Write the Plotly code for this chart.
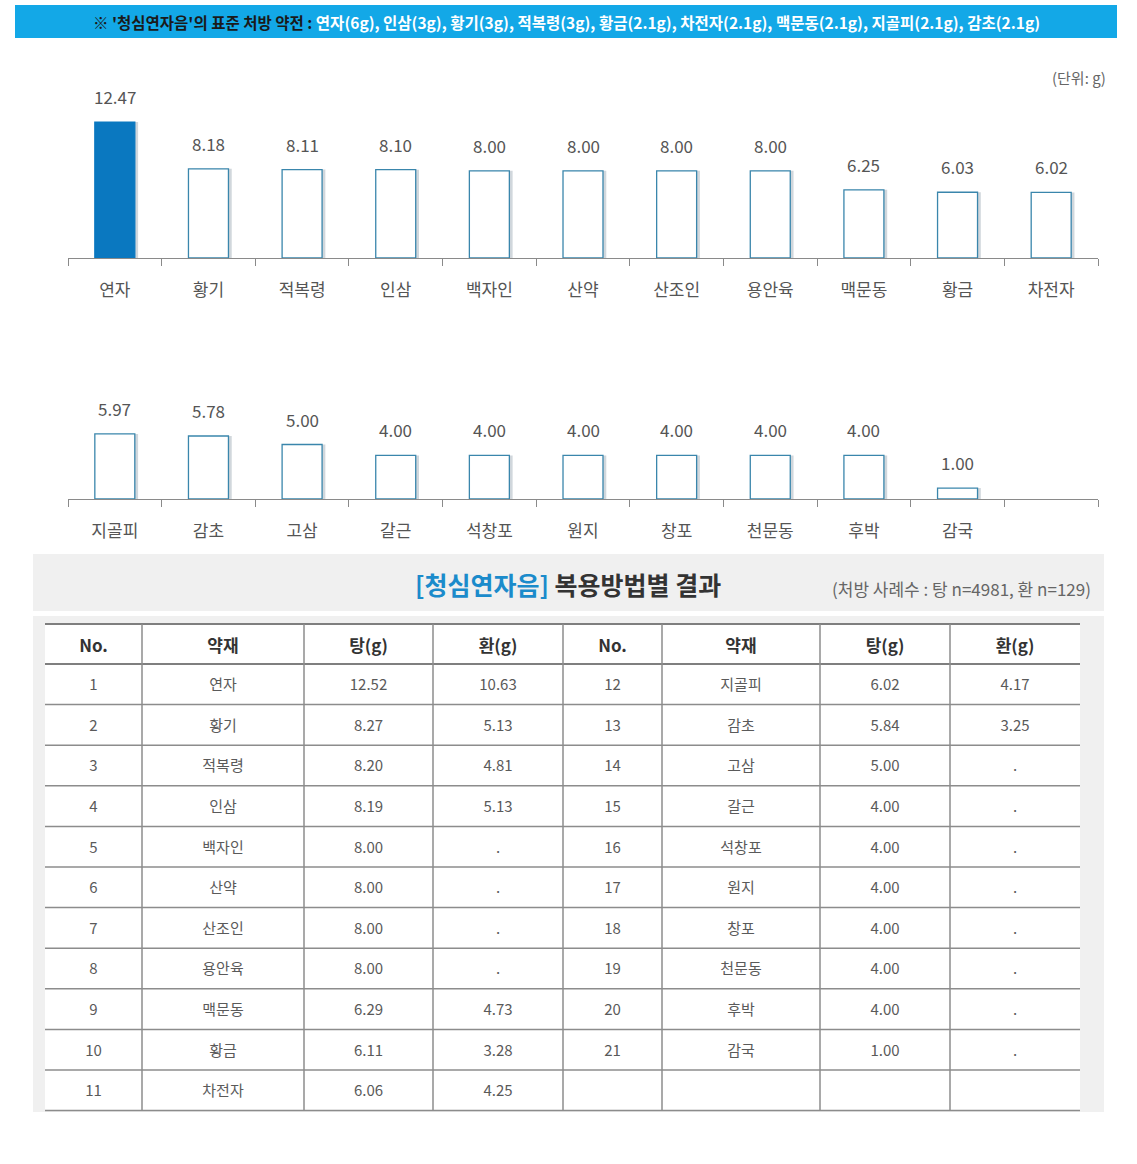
import plotly.graph_objects as go

W, H = 1137, 1164
FONT = "Noto Sans CJK KR"

# ---------------- data ----------------
std_herbs = ["연자", "인삼", "황기", "적복령", "황금", "차전자", "맥문동", "지골피", "감초"]
std_doses = ["6g", "3g", "3g", "3g", "2.1g", "2.1g", "2.1g", "2.1g", "2.1g"]

names1 = ["연자", "황기", "적복령", "인삼", "백자인", "산약", "산조인", "용안육", "맥문동", "황금", "차전자"]
vals1 = [12.47, 8.18, 8.11, 8.10, 8.00, 8.00, 8.00, 8.00, 6.25, 6.03, 6.02]
names2 = ["지골피", "감초", "고삼", "갈근", "석창포", "원지", "창포", "천문동", "후박", "감국"]
vals2 = [5.97, 5.78, 5.00, 4.00, 4.00, 4.00, 4.00, 4.00, 4.00, 1.00]

tbl_header = ["No.", "약재", "탕(g)", "환(g)", "No.", "약재", "탕(g)", "환(g)"]
no_left = [str(i) for i in range(1, 12)]
herb_left = ["연자", "황기", "적복령", "인삼", "백자인", "산약", "산조인", "용안육", "맥문동", "황금", "차전자"]
tang_left = ["12.52", "8.27", "8.20", "8.19", "8.00", "8.00", "8.00", "8.00", "6.29", "6.11", "6.06"]
hwan_left = ["10.63", "5.13", "4.81", "5.13", ".", ".", ".", ".", "4.73", "3.28", "4.25"]
no_right = [str(i) for i in range(12, 22)] + [""]
herb_right = ["지골피", "감초", "고삼", "갈근", "석창포", "원지", "창포", "천문동", "후박", "감국", ""]
tang_right = ["6.02", "5.84", "5.00", "4.00", "4.00", "4.00", "4.00", "4.00", "4.00", "1.00", ""]
hwan_right = ["4.17", "3.25", ".", ".", ".", ".", ".", ".", ".", ".", ""]

n_slots = 11

def px(x):
    return x / W

def py(y):
    return 1 - y / H

fig = go.Figure()

BAR_W = 0.427
SHADOW_DX = 0.035

def add_bars(names, vals, xa, ya):
    xs = list(range(len(vals)))
    fig.add_trace(go.Bar(
        x=xs, y=vals, xaxis=xa, yaxis=ya, width=BAR_W,
        offset=-BAR_W / 2 + SHADOW_DX,
        marker=dict(color="rgba(90,110,130,0.28)", line=dict(width=0)),
        hoverinfo="skip", showlegend=False))
    fills = ["#0A78C0" if (xa == "x" and i == 0) else "white" for i in range(len(vals))]
    lines = ["#0A78C0" if (xa == "x" and i == 0) else "#3A86AC" for i in range(len(vals))]
    fig.add_trace(go.Bar(
        x=xs, y=vals, xaxis=xa, yaxis=ya, width=BAR_W, offset=-BAR_W / 2,
        marker=dict(color=fills, line=dict(color=lines, width=1.3)),
        showlegend=False, hovertemplate="%{y:.2f}<extra></extra>"))
    for i, v in enumerate(vals):
        fig.add_annotation(x=i, y=v, xref=xa, yref=ya, text=f"{v:.2f}",
                           showarrow=False, yanchor="bottom", yshift=11,
                           font=dict(family=FONT, size=17, color="#555555"))

add_bars(names1, vals1, "x", "y")
add_bars(names2, vals2, "x2", "y2")

YTOP = 16.33
boundaries = [i - 0.5 for i in range(n_slots + 1)]

def xaxis_cfg(names, anchor):
    return dict(
        domain=[px(68), px(1098)], range=[-0.5, n_slots - 0.5], anchor=anchor,
        tickmode="array", tickvals=list(range(len(names))), ticktext=names,
        ticks="", showgrid=False, zeroline=False,
        showline=True, linecolor="#8a8a8a", linewidth=1.2,
        tickfont=dict(family=FONT, size=17, color="#555555"),
        ticklabelstandoff=16,
        minor=dict(tickmode="array", tickvals=boundaries, ticks="outside",
                   ticklen=7, tickcolor="#8a8a8a", tickwidth=1.2, showgrid=False),
        fixedrange=True)

fig.update_layout(
    xaxis=xaxis_cfg(names1, "y"),
    yaxis=dict(domain=[py(258), py(80)], range=[0, YTOP], visible=False, fixedrange=True),
    xaxis2=xaxis_cfg(names2, "y2"),
    yaxis2=dict(domain=[py(499), py(321)], range=[0, YTOP], visible=False, fixedrange=True),
)

# ---------------- table ----------------
col_w = [97, 162, 129, 130, 99, 158, 130, 130]
T_LEFT, T_TOP = 45, 624
HEAD_H, ROW_H = 40, 40.6
n_rows = len(no_left)
T_RIGHT = T_LEFT + sum(col_w)
T_BOTTOM = T_TOP + HEAD_H + ROW_H * n_rows
TEXT_DY = 7  # push text toward vertical centre of each cell

fig.add_trace(go.Table(
    domain=dict(x=[px(T_LEFT), px(T_RIGHT)], y=[py(T_BOTTOM + TEXT_DY + 6), py(T_TOP + TEXT_DY)]),
    columnwidth=col_w,
    header=dict(values=tbl_header, height=HEAD_H, align="center",
                fill=dict(color="rgba(0,0,0,0)"),
                line=dict(color="rgba(0,0,0,0)", width=0),
                font=dict(family=FONT, size=17, color="#333333", weight="bold")),
    cells=dict(values=[no_left, herb_left, tang_left, hwan_left,
                       no_right, herb_right, tang_right, hwan_right],
               height=ROW_H, align="center",
               fill=dict(color="rgba(0,0,0,0)"),
               line=dict(color="rgba(0,0,0,0)", width=0),
               font=dict(family=FONT, size=15, color="#5a5a5a"))))

# ---------------- decorations ----------------
shapes = [
    dict(type="rect", xref="paper", yref="paper", x0=px(15), x1=px(1117), y0=py(38), y1=py(5),
         fillcolor="#13A8E7", line=dict(width=0), layer="below"),
    dict(type="rect", xref="paper", yref="paper", x0=px(33), x1=px(1104), y0=py(611), y1=py(554),
         fillcolor="#F0F0F0", line=dict(width=0), layer="below"),
    dict(type="rect", xref="paper", yref="paper", x0=px(33), x1=px(1104), y0=py(1112), y1=py(616),
         fillcolor="#F0F0F0", line=dict(width=0), layer="below"),
    dict(type="rect", xref="paper", yref="paper", x0=px(T_LEFT), x1=px(T_RIGHT),
         y0=py(T_BOTTOM), y1=py(T_TOP), fillcolor="white", line=dict(width=0), layer="below"),
]
h_rules = [T_TOP, T_TOP + HEAD_H] + [T_TOP + HEAD_H + ROW_H * k for k in range(1, n_rows + 1)]
for k, yv in enumerate(h_rules):
    thick = k <= 1
    shapes.append(dict(type="line", xref="paper", yref="paper",
                       x0=px(T_LEFT), x1=px(T_RIGHT), y0=py(yv), y1=py(yv),
                       line=dict(color="#7f7f7f" if thick else "#8c8c8c", width=2.2 if thick else 1.5),
                       layer="below"))
xc = T_LEFT
for w in col_w[:-1]:
    xc += w
    shapes.append(dict(type="line", xref="paper", yref="paper",
                       x0=px(xc), x1=px(xc), y0=py(T_TOP), y1=py(T_BOTTOM),
                       line=dict(color="#8c8c8c", width=1.5), layer="below"))

std_text = ", ".join(f"{h}({d})" for h, d in zip(std_herbs, std_doses))
annotations = [
    dict(x=px(566), y=py(22), xref="paper", yref="paper", showarrow=False,
         xanchor="center", yanchor="middle",
         text="<b>※ '청심연자음'의 표준 처방 약전 : </b><b><span style='color:white'>" + std_text + "</span></b>",
         font=dict(family=FONT, size=15.5, color="#1a1a1a")),
    dict(x=px(1108), y=py(78), xref="paper", yref="paper", showarrow=False,
         xanchor="right", yanchor="middle", text="(단위: g)",
         font=dict(family=FONT, size=15, color="#666666")),
    dict(x=px(568), y=py(584), xref="paper", yref="paper", showarrow=False,
         xanchor="center", yanchor="middle",
         text="<b><span style='color:#1B8BCB'>[청심연자음]</span> 복용방법별 결과</b>",
         font=dict(family=FONT, size=25, color="#333333")),
    dict(x=px(1093), y=py(588), xref="paper", yref="paper", showarrow=False,
         xanchor="right", yanchor="middle", text="(처방 사례수 : 탕 n=4981, 환 n=129)",
         font=dict(family=FONT, size=17, color="#666666")),
]

fig.update_layout(
    width=W, height=H, margin=dict(l=0, r=0, t=0, b=0),
    paper_bgcolor="white", plot_bgcolor="rgba(0,0,0,0)",
    barmode="overlay", showlegend=False,
    shapes=shapes, annotations=list(fig.layout.annotations) + annotations,
    font=dict(family=FONT),
)

fig.write_html("out.html", config={"displayModeBar": False})
